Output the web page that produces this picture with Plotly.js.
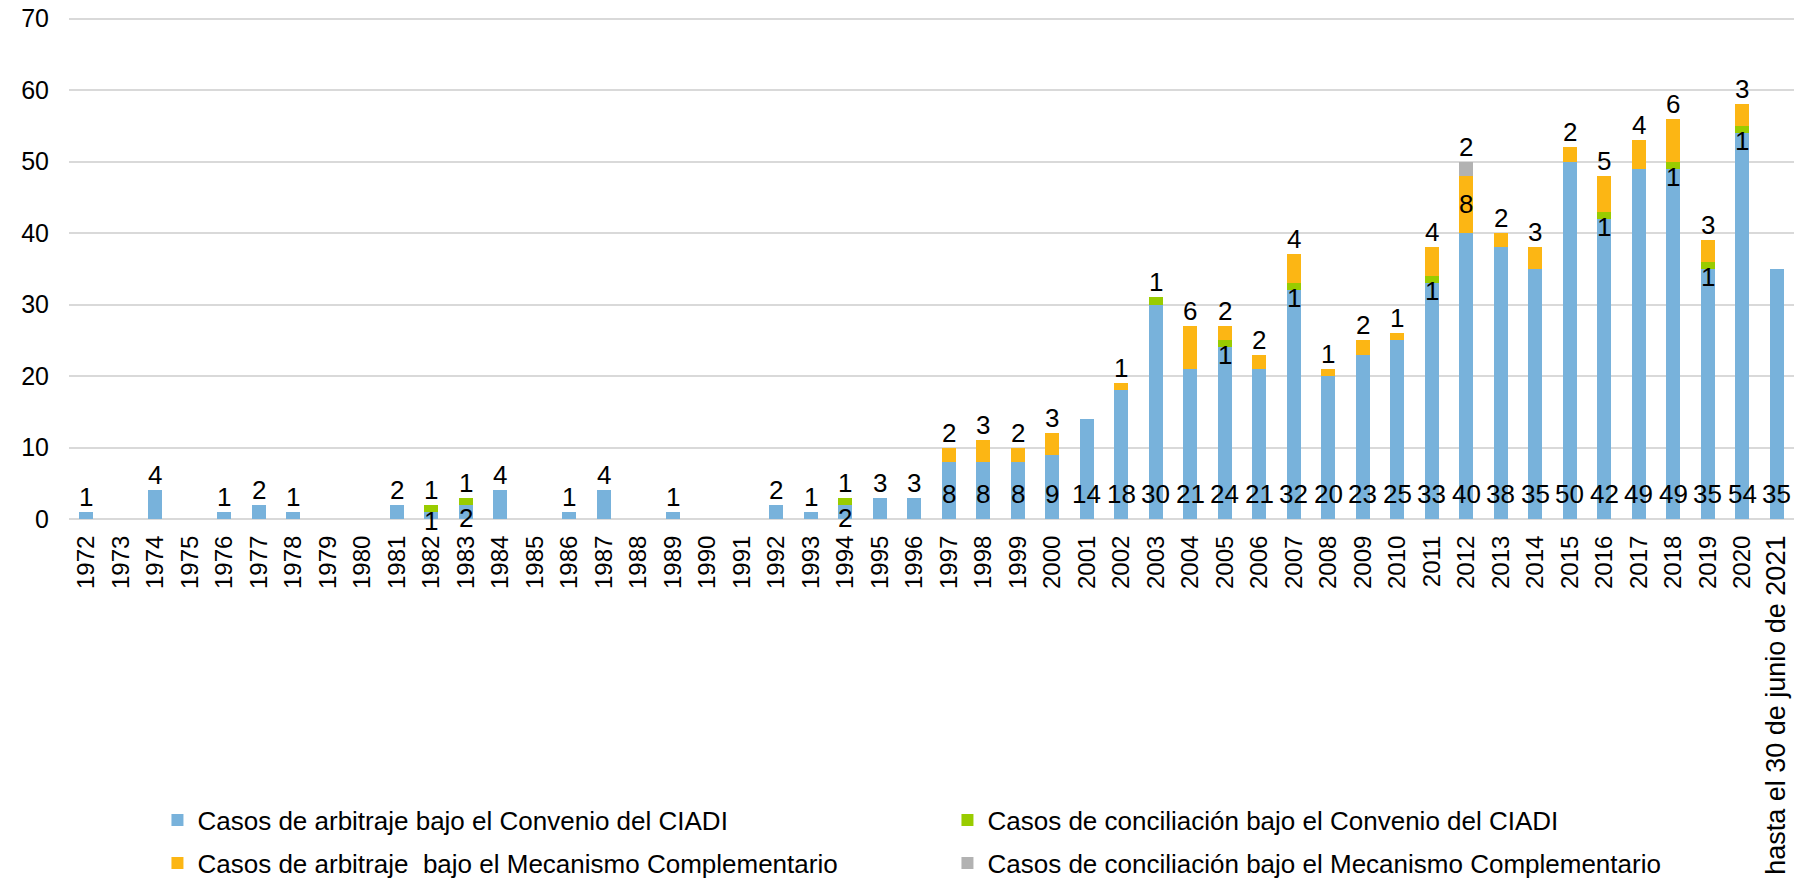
<!DOCTYPE html>
<html>
<head>
<meta charset="utf-8">
<script src="https://cdn.plot.ly/plotly-3.0.1.min.js"></script>
<style>
  html, body { margin: 0; padding: 0; background: #ffffff; }
  #chart { width: 1814px; height: 878px; }
</style>
</head>
<body>
<div id="chart"></div>
<script>
// ---- Data ----
const categories = ["1972","1973","1974","1975","1976","1977","1978","1979","1980","1981",
  "1982","1983","1984","1985","1986","1987","1988","1989","1990","1991",
  "1992","1993","1994","1995","1996","1997","1998","1999","2000","2001",
  "2002","2003","2004","2005","2006","2007","2008","2009","2010","2011",
  "2012","2013","2014","2015","2016","2017","2018","2019","2020","hasta el 30 de junio de 2021"];

const arbitrajeCIADI = [1,0,4,0,1,2,1,0,0,2,
  1,2,4,0,1,4,0,1,0,0,
  2,1,2,3,3,8,8,8,9,14,
  18,30,21,24,21,32,20,23,25,33,
  40,38,35,50,42,49,49,35,54,35];

const conciliacionCIADI = [0,0,0,0,0,0,0,0,0,0,
  1,1,0,0,0,0,0,0,0,0,
  0,0,1,0,0,0,0,0,0,0,
  0,1,0,1,0,1,0,0,0,1,
  0,0,0,0,1,0,1,1,1,0];

const arbitrajeMC = [0,0,0,0,0,0,0,0,0,0,
  0,0,0,0,0,0,0,0,0,0,
  0,0,0,0,0,2,3,2,3,0,
  1,0,6,2,2,4,1,2,1,4,
  8,2,3,2,5,4,6,3,3,0];

const conciliacionMC = [0,0,0,0,0,0,0,0,0,0,
  0,0,0,0,0,0,0,0,0,0,
  0,0,0,0,0,0,0,0,0,0,
  0,0,0,0,0,0,0,0,0,0,
  2,0,0,0,0,0,0,0,0,0];

const seriesNames = [
  "Casos de arbitraje bajo el Convenio del CIADI",
  "Casos de conciliación bajo el Convenio del CIADI",
  "Casos de arbitraje  bajo el Mecanismo Complementario",
  "Casos de conciliación bajo el Mecanismo Complementario"
];
const seriesColors = ["#78B2DB", "#99CC00", "#FCB614", "#B2B2B2"];
const seriesValues = [arbitrajeCIADI, conciliacionCIADI, arbitrajeMC, conciliacionMC];
// legend row for each series (two rows of two entries, as in the reference)
const seriesLegend = ["legend", "legend", "legend2", "legend2"];

const FONT = '"Liberation Sans", Arial, sans-serif';
const catIdx = categories.map((c, i) => i);
const tickText = categories.map(c => c.length > 4 ? '<span style="font-size:27px">' + c + '</span>' : c);

const traces = seriesValues.map((vals, s) => ({
  type: 'bar',
  name: seriesNames[s],
  legend: seriesLegend[s],
  x: catIdx,
  y: vals.map(v => v === 0 ? null : v),
  marker: { color: seriesColors[s], line: { width: 0 } },
  hovertext: categories,
  hoverinfo: 'text+y+name'
}));

// ---- Data labels (derived from the arrays) ----
const annotations = [];
const LBL = { family: FONT, size: 26, color: '#000000' };
categories.forEach((cat, i) => {
  const vals = seriesValues.map(a => a[i]);
  let topIdx = -1;
  vals.forEach((v, s) => { if (v > 0) topIdx = s; });
  let base = 0;
  vals.forEach((v, s) => {
    if (v <= 0) { return; }
    const top = base + v;
    const isTop = (s === topIdx);
    let ann = { x: i, xref: 'x', yref: 'y', text: String(v), showarrow: false, font: LBL };
    if (s === 0) {
      if (v >= 8) {
        Object.assign(ann, { y: 0, yanchor: 'middle', yshift: 25 });
      } else if (isTop) {
        Object.assign(ann, { y: top, yanchor: 'bottom', yshift: -2 });
      } else {
        Object.assign(ann, { y: base + v / 2, yanchor: 'middle', yshift: -6 });
      }
    } else if (isTop) {
      Object.assign(ann, { y: top, yanchor: 'bottom', yshift: -2 });
    } else if (s === 1) {
      Object.assign(ann, { y: base, yanchor: 'middle', yshift: -8 });
    } else {
      Object.assign(ann, { y: base + v / 2, yanchor: 'middle', yshift: 0 });
    }
    annotations.push(ann);
    base = top;
  });
});

const legendCommon = {
  orientation: 'h',
  xref: 'container',
  yref: 'container',
  x: 0.0868,
  xanchor: 'left',
  yanchor: 'middle',
  traceorder: 'normal',
  entrywidth: 745,
  entrywidthmode: 'pixels',
  itemwidth: 30,
  font: { family: FONT, size: 26, color: '#000000' },
  bgcolor: 'rgba(0,0,0,0)'
};

const layout = {
  width: 1814,
  height: 878,
  margin: { l: 69, r: 20, t: 15, b: 359, pad: 0 },
  paper_bgcolor: '#ffffff',
  plot_bgcolor: '#ffffff',
  barmode: 'stack',
  bargap: 0.594,
  font: { family: FONT, size: 24, color: '#000000' },
  showlegend: true,
  legend: Object.assign({}, legendCommon, { y: 1 - 820 / 878 }),
  legend2: Object.assign({}, legendCommon, { y: 1 - 863 / 878 }),
  xaxis: {
    type: 'linear',
    range: [-0.5, categories.length - 0.5],
    tickmode: 'array',
    tickvals: catIdx,
    ticktext: tickText,
    tickangle: -90,
    tickfont: { family: FONT, size: 24, color: '#000000' },
    ticks: 'outside',
    ticklen: 6,
    tickcolor: 'rgba(0,0,0,0)',
    showgrid: false,
    showline: false,
    zeroline: false,
    automargin: false
  },
  yaxis: {
    range: [0, 70.5],
    tickmode: 'linear',
    dtick: 10,
    tick0: 0,
    tickfont: { family: FONT, size: 25, color: '#000000' },
    ticks: 'outside',
    ticklen: 14,
    tickcolor: 'rgba(0,0,0,0)',
    showgrid: true,
    gridcolor: '#D9D9D9',
    gridwidth: 1.5,
    zeroline: true,
    zerolinecolor: '#D9D9D9',
    zerolinewidth: 1.5,
    showline: false,
    automargin: false
  },
  annotations: annotations
};

Plotly.newPlot('chart', traces, layout, { displayModeBar: false, responsive: false });
</script>
</body>
</html>
